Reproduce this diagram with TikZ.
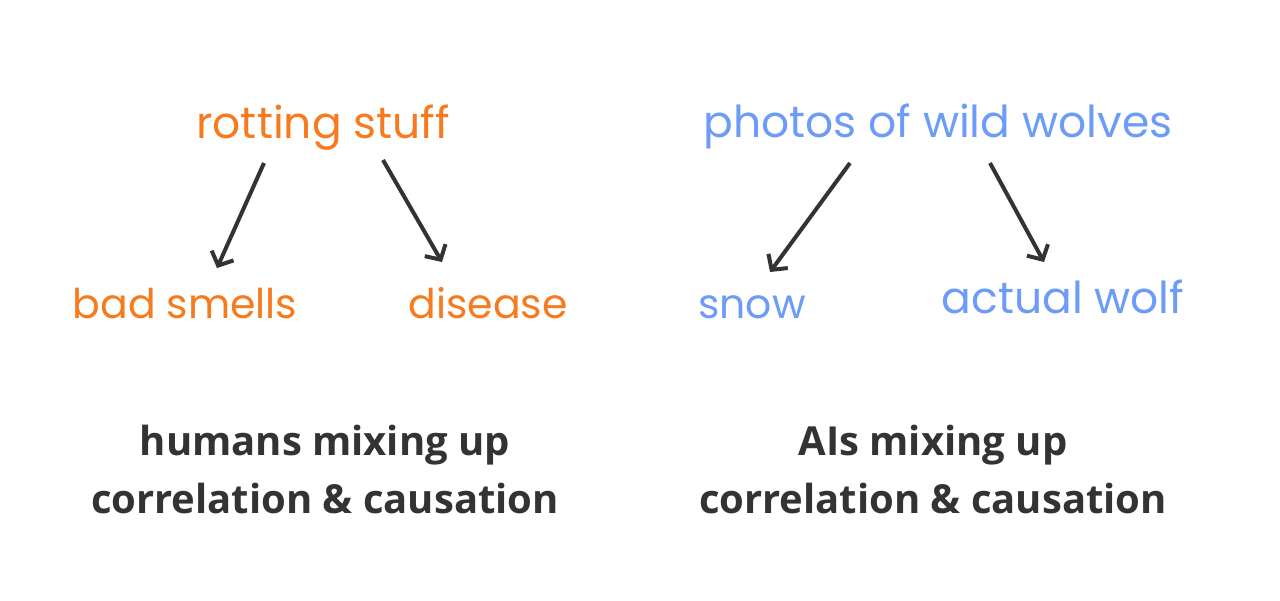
\documentclass[tikz,border=0pt]{standalone}
\usepackage{fontspec}
\setmainfont{Open Sans}
\newfontfamily\handfont{Poppins}
\usetikzlibrary{arrows.meta,calc}
\definecolor{rotorange}{HTML}{F77B1E}
\definecolor{wolfblue}{HTML}{6C9BF8}
\definecolor{inkgray}{HTML}{333333}
\tikzset{
    hand/.style={anchor=base, inner sep=0pt, font=\handfont\fontsize{44}{50}\selectfont},
    hand small/.style={hand, font=\handfont\fontsize{41}{48}\selectfont},
    hand orange/.style={hand, text=rotorange},
    hand blue/.style={hand, text=wolfblue},
    caption/.style={anchor=base, inner sep=0pt, text=inkgray, font=\bfseries\fontsize{40}{46}\selectfont},
    causes/.style={-{Straight Barb[length=11pt,width=24pt,line width=4pt]}, line width=4pt, draw=inkgray}
}
\begin{document}
\begin{tikzpicture}[x=1pt, y=-1pt]
    \useasboundingbox (0,0) rectangle (1280,600);
    % humans
    \node[hand orange] (rot) at (323,138) {rotting stuff};
    \node[hand orange, hand small] (smell) at (185,318) {bad smells};
    \node[hand orange, hand small] (sick) at (488,318) {disease};
    \draw[causes] ($(rot.base)+(-59,25)$) -- ($(smell.base)+(32,-50)$);
    \draw[causes] ($(rot.base)+(60,22)$) -- ($(sick.base)+(-46,-56)$);
    \node[caption] (hum1) at (325,455) {humans mixing up};
    \node[caption] (hum2) at (325,513) {correlation \& causation};
    % AIs
    \node[hand blue] (photo) at (938,137) {photos of wild wolves};
    \node[hand blue, hand small] (snow) at (752,318) {snow};
    \node[hand blue] (wolf) at (1063,313) {actual wolf};
    \draw[causes] ($(photo.base)+(-88,26)$) -- ($(snow.base)+(18,-46)$);
    \draw[causes] ($(photo.base)+(52,26)$) -- ($(wolf.base)+(-19,-51)$);
    \node[caption] (ai1) at (933,455) {AIs mixing up};
    \node[caption] (ai2) at (933,513) {correlation \& causation};
\end{tikzpicture}
\end{document}
